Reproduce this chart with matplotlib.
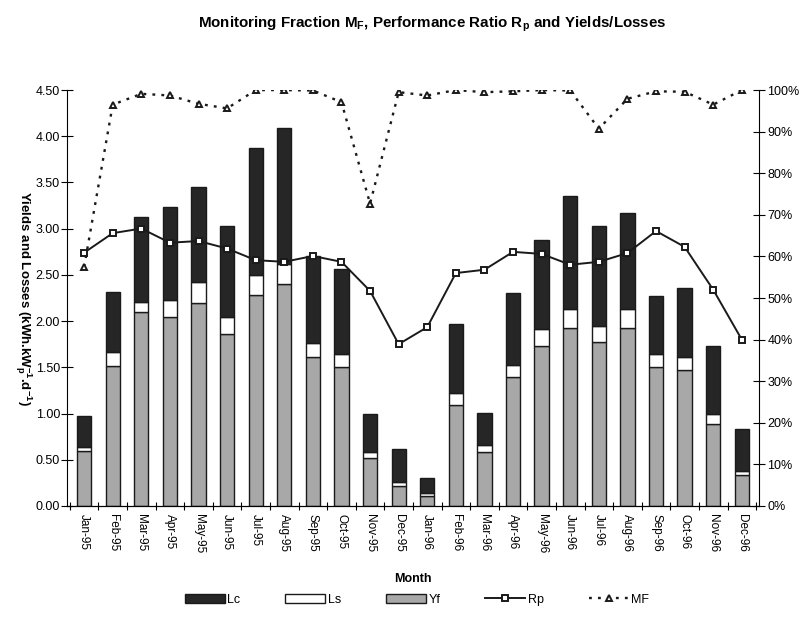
import numpy as np
import matplotlib
matplotlib.use("Agg")
import matplotlib.pyplot as plt
from matplotlib.ticker import FixedLocator, FuncFormatter

plt.rcParams['font.family'] = ['Liberation Sans', 'DejaVu Sans']

months = ['Jan-95', 'Feb-95', 'Mar-95', 'Apr-95', 'May-95', 'Jun-95',
          'Jul-95', 'Aug-95', 'Sep-95', 'Oct-95', 'Nov-95', 'Dec-95',
          'Jan-96', 'Feb-96', 'Mar-96', 'Apr-96', 'May-96', 'Jun-96',
          'Jul-96', 'Aug-96', 'Sep-96', 'Oct-96', 'Nov-96', 'Dec-96']

# yields and losses, kWh/kWp/d
yf = [0.59, 1.51, 2.10, 2.04, 2.20, 1.86, 2.28, 2.40, 1.61, 1.50, 0.52, 0.22,
      0.11, 1.09, 0.58, 1.40, 1.73, 1.93, 1.77, 1.93, 1.50, 1.47, 0.89, 0.33]
ls = [0.05, 0.16, 0.11, 0.19, 0.22, 0.18, 0.22, 0.22, 0.15, 0.14, 0.06, 0.04,
      0.03, 0.13, 0.08, 0.13, 0.18, 0.20, 0.18, 0.20, 0.14, 0.14, 0.11, 0.05]
lc = [0.33, 0.64, 0.92, 1.00, 1.03, 0.99, 1.37, 1.47, 0.94, 0.92, 0.42, 0.36,
      0.16, 0.75, 0.35, 0.77, 0.97, 1.22, 1.08, 1.04, 0.63, 0.75, 0.73, 0.45]

# performance ratio and monitoring fraction, %
rp = [60.9, 65.6, 66.7, 63.3, 63.7, 61.9, 59.1, 58.7, 60.1, 58.7, 51.7, 38.9,
      43.0, 56.0, 56.8, 61.1, 60.6, 58.0, 58.7, 60.8, 66.1, 62.3, 52.0, 40.0]
mf = [57.5, 96.5, 99.1, 98.7, 96.7, 95.6, 100, 100, 99.9, 97.1, 72.7, 99.5,
      98.7, 100, 99.5, 99.7, 100, 99.9, 90.7, 97.9, 99.7, 99.6, 96.5, 100]

x = np.arange(len(months))
yf = np.array(yf)
ls = np.array(ls)
lc = np.array(lc)

fig = plt.figure(figsize=(8.05, 6.17), dpi=100)
ax = fig.add_axes([0.0832, 0.180, 0.8596, 0.674])

w = 0.5
b1 = ax.bar(x, yf, w, color='#a8a8a8', edgecolor='#1a1a1a', linewidth=1.0, label='Yf')
b2 = ax.bar(x, ls, w, bottom=yf, color='white', edgecolor='#1a1a1a', linewidth=1.0, label='Ls')
b3 = ax.bar(x, lc, w, bottom=yf + ls, color='#262626', edgecolor='#1a1a1a', linewidth=1.0, label='Lc')

ax.set_xlim(-0.6, 23.6)
ax.set_ylim(0, 4.5)
ax.set_yticks(np.arange(0, 4.51, 0.5))
ax.yaxis.set_major_formatter(FuncFormatter(lambda v, p: '%.2f' % v))
ax.set_xticks(x)
ax.set_xticklabels(months, rotation=-90, fontsize=8.5)
ax.xaxis.set_minor_locator(FixedLocator(np.arange(-0.5, 24, 1.0)))
ax.tick_params(axis='x', which='major', length=0, pad=6)
ax.tick_params(axis='x', which='minor', direction='inout', length=6, width=0.8)
ax.tick_params(axis='y', direction='inout', length=8, width=0.8, labelsize=9, pad=1)
ax.spines['top'].set_visible(False)
ax.spines['right'].set_visible(False)
ax.set_xlabel('Month', fontsize=9, fontweight='bold', labelpad=14)

fig.text(23 / 805, 0.517,
         'Yields and Losses (kWh.kW$_\\mathregular{p}^{\\mathregular{-1}}$.d$^{\\mathregular{-1}}$)',
         rotation=270, ha='center', va='center', fontsize=9.5, fontweight='bold')

ax2 = ax.twinx()
ax2.set_ylim(0, 100)
ax2.set_yticks(np.arange(0, 101, 10))
ax2.yaxis.set_major_formatter(FuncFormatter(lambda v, p: '%d%%' % v))
ax2.tick_params(axis='y', direction='inout', length=8, width=0.8, labelsize=9, pad=2)
ax2.spines['top'].set_visible(False)
ax2.spines['left'].set_visible(False)

l1, = ax2.plot(x, rp, '-', color='#1a1a1a', lw=1.4, marker='s', ms=5,
               mfc='white', mec='#1a1a1a', mew=1.4, label='Rp')
l2, = ax2.plot(x, mf, linestyle=(0, (1.2, 2.6)), color='#1a1a1a', lw=1.7, marker='^', ms=5,
               mfc='white', mec='#1a1a1a', mew=1.4, label='MF')

fig.text(0.537, 0.977, 'Monitoring Fraction M$_\\mathregular{F}$, Performance Ratio R$_\\mathregular{p}$ and Yields/Losses',
         ha='center', va='top', fontsize=10.9, fontweight='bold')

fig.legend([b3, b2, b1, l1, l2], ['Lc', 'Ls', 'Yf', 'Rp', 'MF'],
           loc='center', bbox_to_anchor=(0.518, 0.028), ncol=5, frameon=False,
           fontsize=9, handlelength=3.2, handletextpad=0.2, columnspacing=3.6)

fig.savefig('out.png', dpi=100)
